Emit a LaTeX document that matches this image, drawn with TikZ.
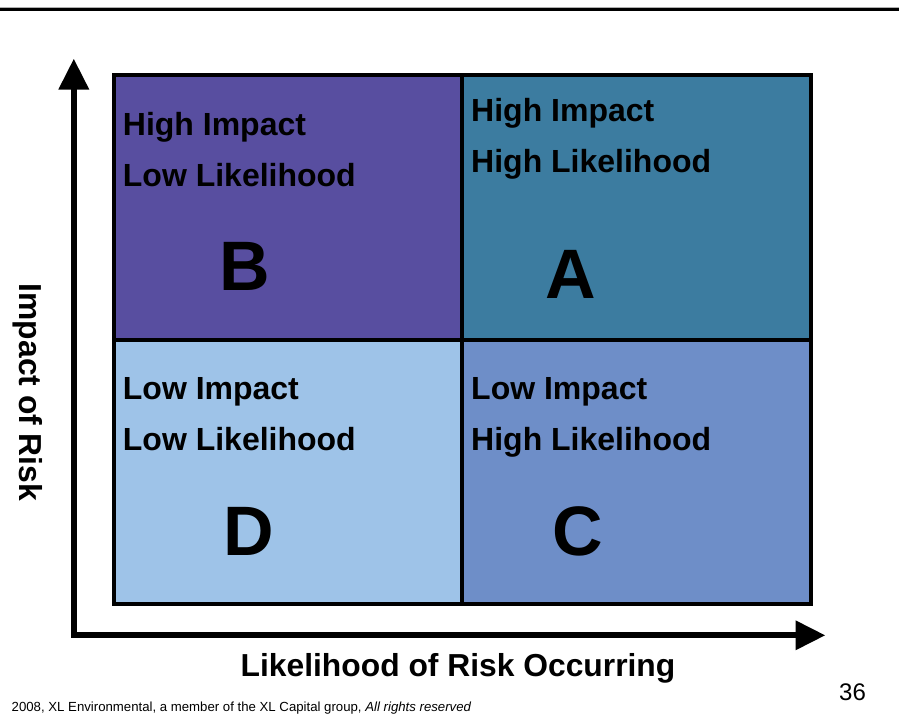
\documentclass[tikz,border=0pt]{standalone}
\usepackage{fontspec}
\setmainfont{Liberation Sans}
\usetikzlibrary{arrows.meta}
\definecolor{cellB}{RGB}{88,78,160}
\definecolor{cellA}{RGB}{60,124,160}
\definecolor{cellD}{RGB}{158,195,232}
\definecolor{cellC}{RGB}{110,142,200}
\definecolor{rulegray}{RGB}{175,175,175}
\begin{document}
\begin{tikzpicture}[x=1pt,y=-1pt,
  celltext/.style={anchor=base west,inner sep=0pt,font=\fontsize{32}{38}\selectfont\bfseries},
  bigletter/.style={anchor=base,inner sep=0pt,font=\fontsize{70}{80}\selectfont\bfseries},
  axislabel/.style={inner sep=0pt,font=\fontsize{31.8}{38}\selectfont\bfseries},
  gridline/.style={line width=4pt,black},
  axisline/.style={line width=5.8pt,black,line cap=butt,line join=miter}]
\useasboundingbox (0,0) rectangle (899,721);
% top rule
\draw[rulegray,line width=1pt] (0,7.2) -- (899,7.2);
\draw[black,line width=3pt] (0,9.2) -- (899,9.2);
% cells
\fill[cellB] (113.7,74.7) rectangle (462,339.5);
\fill[cellA] (462,74.7) rectangle (810.5,339.5);
\fill[cellD] (113.7,339.5) rectangle (462,603.7);
\fill[cellC] (462,339.5) rectangle (810.5,603.7);
\draw[gridline] (113.7,74.7) rectangle (810.5,603.7);
\draw[gridline] (462,74.7) -- (462,603.7);
\draw[gridline] (113.7,339.5) -- (810.5,339.5);
% axes
\coordinate (ytip) at (73.8,59);
\coordinate (ybase) at (73.8,89);
\coordinate (origin) at (73.8,635.3);
\coordinate (xbase) at (796,635.3);
\coordinate (xtip) at (825,635.3);
\draw[axisline] (ybase) -- (origin) -- (xbase);
\fill (ytip) -- (58.3,89.5) -- (89.3,89.5) -- cycle;
\fill (xtip) -- (795.5,620.3) -- (795.5,650.3) -- cycle;
% cell texts
\node[celltext] (b1) at (122.7,135) {High Impact};
\node[celltext] (b2) at (122.7,186) {Low Likelihood};
\node[bigletter] (bl) at (244.7,290) {B};
\node[celltext] (a1) at (471,121.7) {High Impact};
\node[celltext] (a2) at (471,172.5) {High Likelihood};
\node[bigletter] (al) at (571,298) {A};
\node[celltext] (d1) at (122.7,399) {Low Impact};
\node[celltext] (d2) at (122.7,450.5) {Low Likelihood};
\node[bigletter] (dl) at (249,555.5) {D};
\node[celltext] (c1) at (471,399) {Low Impact};
\node[celltext] (c2) at (471,450.5) {High Likelihood};
\node[bigletter] (cl) at (578,555.5) {C};
% axis labels
\node[axislabel,anchor=base] (xl) at (458,676.7) {Likelihood of Risk Occurring};
\node[axislabel,anchor=base,rotate=-90] (yl) at (19,392.5) {Impact of Risk};
% footer
\node[anchor=base west,inner sep=0pt,font=\fontsize{13.2}{15}\selectfont] (foot) at (11.5,711.5) {2008, XL Environmental, a member of the XL Capital group, \textit{All rights reserved}};
\node[anchor=base,inner sep=0pt,font=\fontsize{24}{28}\selectfont] (page) at (852.5,700) {36};
\end{tikzpicture}
\end{document}
